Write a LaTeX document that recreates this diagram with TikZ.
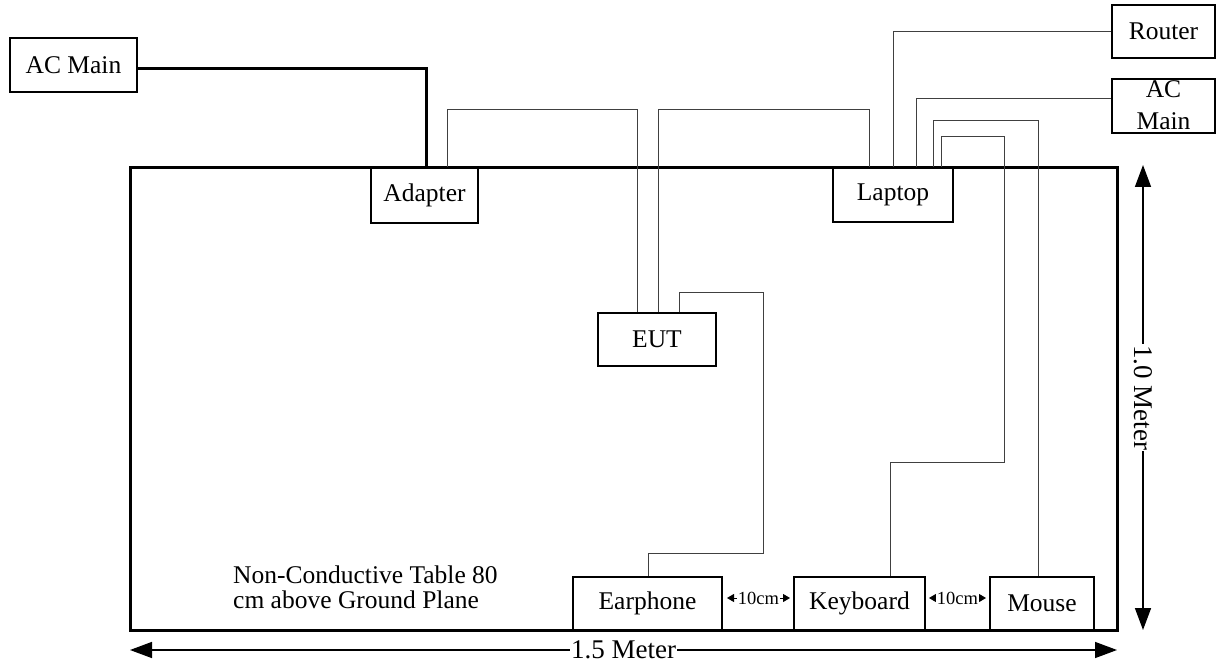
\documentclass[tikz,border=0pt]{standalone}
\usepackage{fontspec}
\setmainfont{Liberation Serif}
\usetikzlibrary{arrows.meta}
\begin{document}
\begin{tikzpicture}[x=1pt,y=-1pt,
  devbox/.style={draw=black,line width=1.5pt,inner sep=0pt,font=\fontsize{25.5}{30}\selectfont},
  wire/.style={draw=black!75,line width=1pt},
  cable/.style={draw=black,line width=3pt},
  tablebox/.style={draw=black,line width=3pt},
  dimline/.style={draw=black,line width=1.5pt,{Triangle[length=22pt,width=16pt]}-{Triangle[length=22pt,width=16pt]}},
  smalldim/.style={draw=black,line width=1pt,{Triangle[length=7pt,width=8pt]}-{Triangle[length=7pt,width=8pt]}},
  dimlabel/.style={fill=white,inner xsep=1pt,inner ysep=0pt,font=\fontsize{27}{30}\selectfont},
  smalllabel/.style={fill=white,inner sep=0.5pt,font=\fontsize{18.5}{22}\selectfont}
]
\useasboundingbox (0,0) rectangle (1216,663);

% devices
\node[devbox,minimum width=127pt,minimum height=54pt] (acL) at (73.5,65) {AC Main};
\node[devbox,minimum width=107pt,minimum height=55pt] (adapter) at (424.5,195.5) {Adapter};
\node[devbox,minimum width=120pt,minimum height=54pt] (laptop) at (893,195) {Laptop};
\node[devbox,minimum width=118pt,minimum height=53pt] (eut) at (657,339.5) {EUT};
\node[devbox,minimum width=103pt,minimum height=53pt] (router) at (1163.5,31.5) {Router};
\node[devbox,minimum width=103pt,minimum height=54pt] (acR) at (1163.5,106) {};
\node[align=center,inner sep=0pt,font=\fontsize{25.5}{32}\selectfont] (acRtext) at ([yshift=1pt]acR.center) {AC\\Main};
\node[devbox,minimum width=149pt,minimum height=53pt] (earphone) at (647.5,603.5) {Earphone};
\node[devbox,minimum width=131pt,minimum height=53pt] (keyboard) at (859.5,603.5) {Keyboard};
\node[devbox,minimum width=104pt,minimum height=53pt] (mouse) at (1042,603.5) {Mouse};

% table
\node[tablebox,minimum width=987pt,minimum height=462pt,inner sep=0pt] (table) at (623.5,399) {};
\node[anchor=base west,align=left,inner sep=0pt,font=\fontsize{25.5}{25}\selectfont] (note) at (233,608) {Non-Conductive Table 80\\cm above Ground Plane};

% power cable
\draw[cable] ([yshift=-4pt]acL.east) -| ([xshift=1.5pt]adapter.north);

% wires
\draw[wire] ([xshift=22.5pt]adapter.north) |- (637,110) -| ([xshift=-20pt]eut.north);
\draw[wire] ([xshift=1pt]eut.north) |- (869,110) -| ([xshift=-24pt]laptop.north);
\draw[wire] ([xshift=22pt]eut.north) |- (763,292) |- (648,553) -| ([xshift=0.5pt]earphone.north);
\draw[wire] (laptop.north) |- (router.west);
\draw[wire] ([xshift=23pt]laptop.north) |- ([yshift=7pt]acR.west);
\draw[wire] ([xshift=40pt]laptop.north) |- (1038,121) -| ([xshift=-4pt]mouse.north);
\draw[wire] ([xshift=48pt]laptop.north) |- (1004,137) |- (890,462) -| ([xshift=30.5pt]keyboard.north);

% dimensions
\coordinate (hL) at (130,650);
\coordinate (hR) at (1117,650);
\draw[dimline] (hL) -- node[dimlabel] (hlab) {1.5 Meter} (hR);
\coordinate (vT) at (1143,165);
\coordinate (vB) at (1143,630);
\draw[dimline] (vT) -- node[dimlabel,rotate=-90] (vlab) {1.0 Meter} (vB);
\coordinate (d1L) at (727,598);
\coordinate (d1R) at (790,598);
\draw[smalldim] (d1L) -- node[smalllabel] (d1lab) {10cm} (d1R);
\coordinate (d2L) at (929,598);
\coordinate (d2R) at (986,598);
\draw[smalldim] (d2L) -- node[smalllabel] (d2lab) {10cm} (d2R);
\end{tikzpicture}
\end{document}
